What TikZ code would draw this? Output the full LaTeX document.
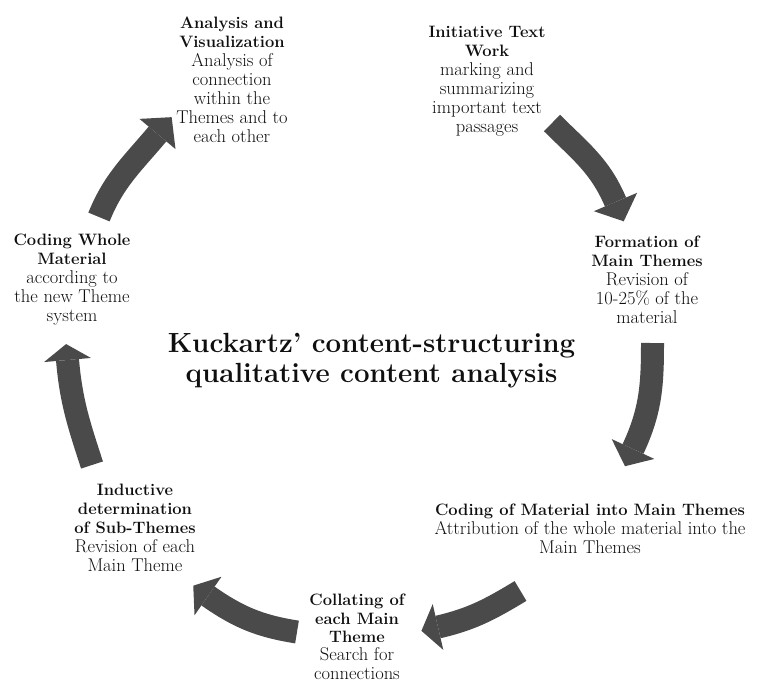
\documentclass[tikz,border=0pt]{standalone}
\usetikzlibrary{calc}
\definecolor{arrowgray}{RGB}{74,74,74}
\definecolor{inkblack}{RGB}{15,15,15}

% curved block arrow: tail, out angle, head-base point, head direction, head length
\newcommand\cyclearrow[5]{%
  \pgfmathsetmacro\inang{#4+180}%
  \draw[shaft] (#1) to[out=#2, in=\inang] (#3);
  \fill[headfill] ($(#3)+({#4+90}:23.5)$) -- ($(#3)+(#4:#5)$) -- ($(#3)+({#4-90}:23.5)$) -- cycle;
}
\newcommand\steptitle[1]{{\fontsize{16.5}{19}\selectfont\bfseries #1}}

\begin{document}
\begin{tikzpicture}[x=1pt,y=1pt,
  steptext/.style={align=center, inner sep=0pt, anchor=north, text=inkblack,
    font=\fontsize{18.5}{19}\selectfont},
  titletext/.style={align=center, inner sep=0pt, anchor=north, text=inkblack,
    font=\fontsize{27.7}{30}\selectfont\bfseries},
  shaft/.style={draw=arrowgray, line width=23pt, line cap=butt},
  headfill/.style={fill=arrowgray}]

\useasboundingbox (0,0) rectangle (763,-685);

% centre title
\node[titletext] (title) at (371.5,-333.5)
  {Kuckartz’ content-structuring\\qualitative content analysis};

% the seven steps of the cycle
\node[steptext] (analysis) at (232,-16.5)
  {\steptitle{Analysis and}\\\steptitle{Visualization}\\Analysis of\\connection\\within the\\Themes and to\\each other};
\node[steptext] (initiative) at (487,-25.5)
  {\steptitle{Initiative Text}\\\steptitle{Work}\\marking and\\summarizing\\important text\\passages};
\node[steptext] (formation) at (647,-235.5)
  {\steptitle{Formation of}\\\steptitle{Main Themes}\\Revision of\\10-25\% of the\\material};
\node[steptext] (codingmain) at (590,-503.5)
  {\steptitle{Coding of Material into Main Themes}\\Attribution of the whole material into the\\Main Themes};
\node[steptext, font=\fontsize{18.5}{18.4}\selectfont] (collating) at (357,-594)
  {\steptitle{Collating of}\\\steptitle{each Main}\\\steptitle{Theme}\\Search for\\connections};
\node[steptext] (inductive) at (135,-483.5)
  {\steptitle{Inductive}\\\steptitle{determination}\\\steptitle{of Sub-Themes}\\Revision of each\\Main Theme};
\node[steptext] (codingwhole) at (72,-233.5)
  {\steptitle{Coding Whole}\\\steptitle{Material}\\according to\\the new Theme\\system};

% arrow end points
\coordinate (t1) at (99,-217);    \coordinate (h1) at (157.5,-134);
\coordinate (t2) at (552,-123);   \coordinate (h2) at (615.5,-202);
\coordinate (t3) at (652.5,-343); \coordinate (h3) at (633,-449);
\coordinate (t4) at (520.5,-591); \coordinate (h4) at (438,-627);
\coordinate (t5) at (297,-632);   \coordinate (h5) at (208,-596);
\coordinate (t6) at (92,-465);    \coordinate (h6) at (67.5,-360);

\cyclearrow{t1}{68}{h1}{50}{22}
\cyclearrow{t2}{-45}{h2}{-67}{21}
\cyclearrow{t3}{-90}{h3}{-115}{19}
\cyclearrow{t4}{211}{h4}{193}{17}
\cyclearrow{t5}{171}{h5}{145}{18}
\cyclearrow{t6}{108}{h6}{95}{16}

\end{tikzpicture}
\end{document}
